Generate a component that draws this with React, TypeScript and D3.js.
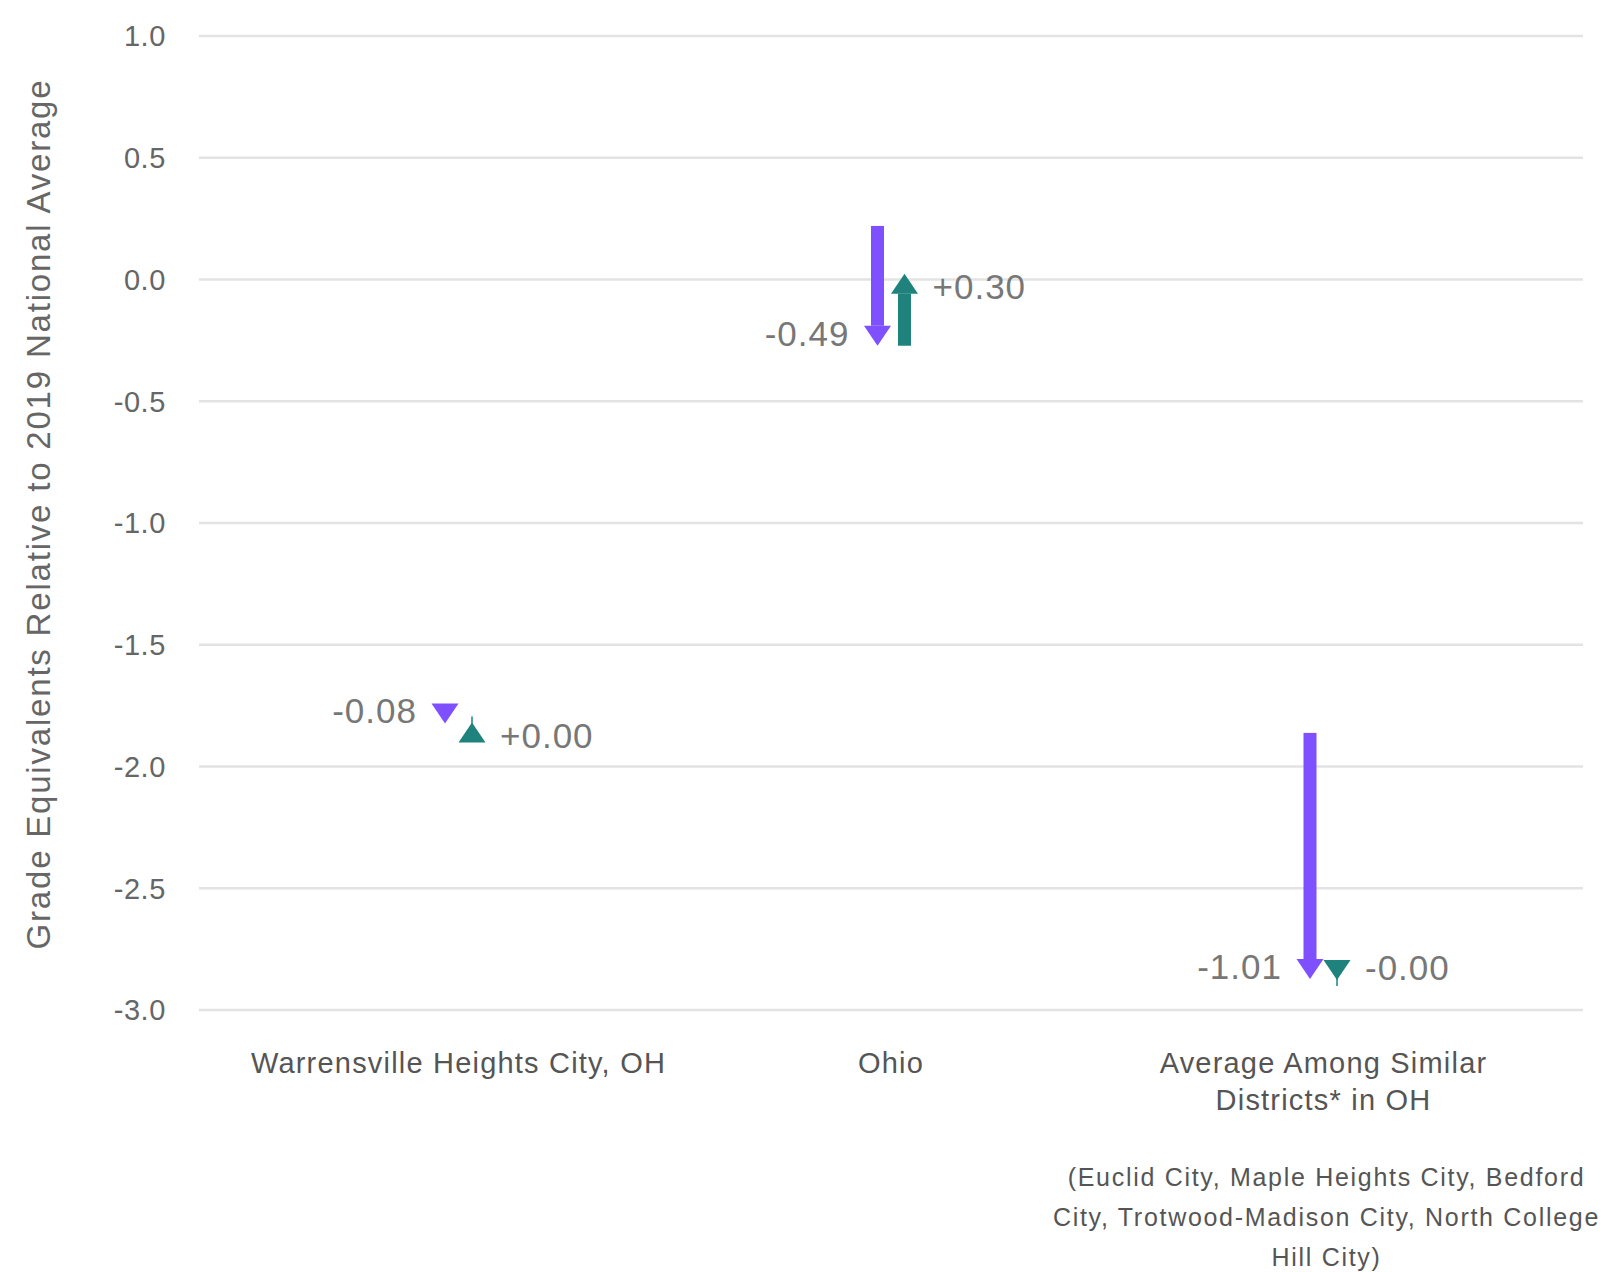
import React from "react";
import * as d3 from "d3";

const categoryLabels: string[][] = [
  ["Warrensville Heights City, OH"],
  ["Ohio"],
  ["Average Among Similar", "Districts* in OH"],
];
const startValues: number[] = [-1.743, 0.22, -1.862];
const change2022: number[] = [-0.08, -0.492, -1.011];
const change2023: number[] = [0.004, 0.296, -0.004];
const yTicks: number[] = [1.0, 0.5, 0.0, -0.5, -1.0, -1.5, -2.0, -2.5, -3.0];
const footnoteLines: string[] = [
  "(Euclid City, Maple Heights City, Bedford",
  "City, Trotwood-Madison City, North College",
  "Hill City)",
];
const yTitle = "Grade Equivalents Relative to 2019 National Average";

const W = 1603;
const H = 1272;
const PURPLE = "#7F50FF";
const TEAL = "#1F827C";
const FONT = "'Liberation Sans', Arial, sans-serif";

const fmt = (v: number) => (v < 0 ? "-" : "+") + Math.abs(v).toFixed(2);

function Arrow({ x, y0, y1, up, color }: { x: number; y0: number; y1: number; up: boolean; color: string }) {
  const headLen = 20;
  const headW = 27;
  const shaftW = 13;
  const d = up ? -1 : 1; // pixel direction of travel
  const base = y1 - d * headLen;
  const len = Math.abs(y1 - y0);
  const parts: React.ReactNode[] = [];
  if (len > headLen) {
    const top = Math.min(y0, base);
    parts.push(<rect key="s" x={x - shaftW / 2} y={top} width={shaftW} height={Math.abs(base - y0)} fill={color} />);
  }
  parts.push(
    <path key="h" d={`M${x - headW / 2},${base} L${x + headW / 2},${base} L${x},${y1} Z`} fill={color} />
  );
  if (len < 1) {
    parts.push(<line key="t" x1={x} x2={x} y1={y1 - 2 * d} y2={y1 + 6 * d} stroke={color} strokeWidth={1.5} />);
  }
  return <g>{parts}</g>;
}

export default function App() {
  const y = d3.scaleLinear().domain([-3, 1]).range([1010, 36]);
  const x = d3.scalePoint<number>().domain([0, 1, 2]).range([199, 1583]).padding(0.6);
  const off = 13.5;
  const valueFont = 35;
  return (
    <svg width={W} height={H} style={{ position: "absolute", left: 0, top: 0, background: "#fff" }}>
      <g>
        {yTicks.map((t) => (
          <g key={t}>
            <line x1={199} x2={1583} y1={y(t)} y2={y(t)} stroke="#e3e3e3" strokeWidth={2.5} />
            <text x={166} y={y(t)} dy="0.36em" textAnchor="end" fontFamily={FONT} fontSize={29} letterSpacing={0.6} fill="#666">
              {t.toFixed(1)}
            </text>
          </g>
        ))}
      </g>
      <text
        transform={`translate(38,514) rotate(-90)`}
        textAnchor="middle"
        dominantBaseline="central"
        fontFamily={FONT}
        fontSize={33}
        letterSpacing={1.8}
        fill="#666"
      >
        {yTitle}
      </text>
      {categoryLabels.map((lines, i) => {
        const cx = x(i) as number;
        const s = startValues[i];
        const e1 = s + change2022[i];
        const e2 = e1 + change2023[i];
        const up1 = change2022[i] > 0;
        const up2 = change2023[i] > 0;
        const px = cx - off;
        const tx = cx + off;
        return (
          <g key={i}>
            <Arrow x={px} y0={y(s)} y1={y(e1)} up={up1} color={PURPLE} />
            <Arrow x={tx} y0={y(e1)} y1={y(e2)} up={up2} color={TEAL} />
            <text
              x={px - 28}
              y={up1 ? y(e1) + valueFont * 0.72 : y(e1)}
              textAnchor="end"
              fontFamily={FONT}
              fontSize={valueFont}
              letterSpacing={1}
              fill="#777"
            >
              {fmt(change2022[i])}
            </text>
            <text
              x={tx + 28}
              y={up2 ? y(e2) + valueFont * 0.72 : y(e2)}
              textAnchor="start"
              fontFamily={FONT}
              fontSize={valueFont}
              letterSpacing={1}
              fill="#777"
            >
              {fmt(change2023[i])}
            </text>
            {lines.map((ln, j) => (
              <text
                key={j}
                x={cx}
                y={1073 + j * 37}
                textAnchor="middle"
                fontFamily={FONT}
                fontSize={29}
                letterSpacing={1.2}
                fill="#555"
              >
                {ln}
              </text>
            ))}
          </g>
        );
      })}
      {footnoteLines.map((ln, j) => (
        <text
          key={j}
          x={(x(2) as number) + 3}
          y={1186 + j * 40}
          textAnchor="middle"
          fontFamily={FONT}
          fontSize={25}
          letterSpacing={1.7}
          fill="#555"
        >
          {ln}
        </text>
      ))}
    </svg>
  );
}
